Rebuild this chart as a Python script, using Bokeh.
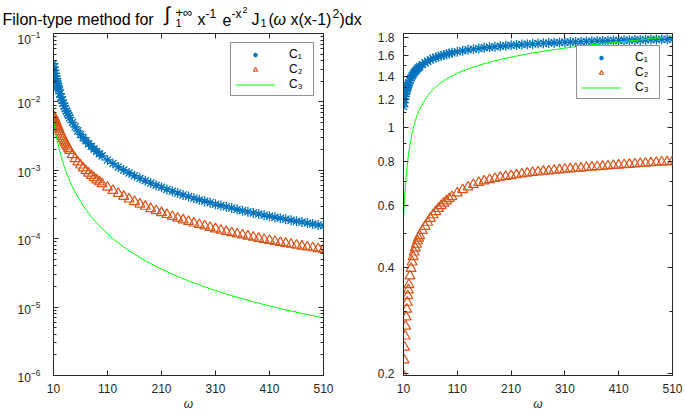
from bokeh.plotting import figure
from bokeh.layouts import column, row
from bokeh.models import (ColumnDataSource, Range1d, FixedTicker, LogTickFormatter,
                          CustomJSTickFormatter, LinearAxis, LogAxis, Legend, LegendItem)
from bokeh.core.properties import value
from bokeh.embed import file_html
from bokeh.resources import INLINE

# ---------------- data ----------------
omega = [10, 11, 12, 13, 14, 15, 16, 17, 18, 19, 20,
         22, 24, 26, 28, 30, 32, 34, 36, 38, 40,
         45, 50, 55, 60, 65, 70, 75, 80, 85, 90, 95, 100,
         110, 120, 130, 140, 150, 160, 170, 180, 190, 200,
         210, 220, 230, 240, 250, 260, 270, 280, 290, 300,
         310, 320, 330, 340, 350, 360, 370, 380, 390, 400,
         410, 420, 430, 440, 450, 460, 470, 480, 490, 500, 510]

# left panel: absolute errors
err_c1 = [3.62e-2, 3.22e-2, 2.89e-2, 2.62e-2, 2.38e-2, 2.18e-2, 2.01e-2, 1.86e-2, 1.72e-2, 1.60e-2, 1.50e-2,
          1.32e-2, 1.18e-2, 1.06e-2, 9.56e-3, 8.72e-3, 7.98e-3, 7.35e-3, 6.80e-3, 6.31e-3, 5.88e-3,
          5.00e-3, 4.32e-3, 3.78e-3, 3.35e-3, 3.00e-3, 2.70e-3, 2.45e-3, 2.24e-3, 2.05e-3, 1.89e-3, 1.75e-3, 1.63e-3,
          1.42e-3, 1.26e-3, 1.12e-3, 1.01e-3, 9.13e-4, 8.33e-4, 7.63e-4, 7.03e-4, 6.50e-4, 6.04e-4,
          5.63e-4, 5.26e-4, 4.93e-4, 4.64e-4, 4.37e-4, 4.13e-4, 3.91e-4, 3.71e-4, 3.53e-4, 3.36e-4,
          3.20e-4, 3.06e-4, 2.92e-4, 2.80e-4, 2.68e-4, 2.57e-4, 2.47e-4, 2.38e-4, 2.29e-4, 2.21e-4,
          2.13e-4, 2.06e-4, 1.99e-4, 1.92e-4, 1.86e-4, 1.80e-4, 1.75e-4, 1.69e-4, 1.64e-4, 1.59e-4,
          1.55e-4]
err_c2 = [6.23e-3, 5.98e-3, 5.70e-3, 5.44e-3, 5.19e-3, 4.98e-3, 4.75e-3, 4.54e-3, 4.35e-3, 4.17e-3, 3.99e-3,
          3.66e-3, 3.38e-3, 3.12e-3, 2.90e-3, 2.69e-3, 2.51e-3, 2.35e-3, 2.20e-3, 2.07e-3, 1.95e-3,
          1.69e-3, 1.48e-3, 1.32e-3, 1.19e-3, 1.08e-3, 9.84e-4, 9.05e-4, 8.37e-4, 7.77e-4, 7.24e-4, 6.77e-4, 6.35e-4,
          5.64e-4, 5.06e-4, 4.57e-4, 4.15e-4, 3.79e-4, 3.48e-4, 3.20e-4, 2.97e-4, 2.75e-4, 2.56e-4,
          2.40e-4, 2.25e-4, 2.11e-4, 1.99e-4, 1.88e-4, 1.78e-4, 1.69e-4, 1.61e-4, 1.53e-4, 1.46e-4,
          1.39e-4, 1.33e-4, 1.27e-4, 1.22e-4, 1.17e-4, 1.13e-4, 1.09e-4, 1.05e-4, 1.01e-4, 9.74e-5,
          9.41e-5, 9.10e-5, 8.80e-5, 8.53e-5, 8.27e-5, 8.02e-5, 7.78e-5, 7.56e-5, 7.35e-5, 7.14e-5,
          6.95e-5]
err_c3 = [5.50e-3, 4.88e-3, 4.36e-3, 3.92e-3, 3.55e-3, 3.23e-3, 2.95e-3, 2.71e-3, 2.49e-3, 2.30e-3, 2.13e-3,
          1.85e-3, 1.61e-3, 1.42e-3, 1.27e-3, 1.13e-3, 1.02e-3, 9.24e-4, 8.40e-4, 7.67e-4, 7.03e-4,
          5.75e-4, 4.80e-4, 4.07e-4, 3.49e-4, 3.03e-4, 2.66e-4, 2.35e-4, 2.10e-4, 1.88e-4, 1.70e-4, 1.54e-4, 1.40e-4,
          1.18e-4, 1.00e-4, 8.68e-5, 7.58e-5, 6.68e-5, 5.93e-5, 5.30e-5, 4.78e-5, 4.32e-5, 3.93e-5,
          3.59e-5, 3.30e-5, 3.04e-5, 2.81e-5, 2.60e-5, 2.42e-5, 2.26e-5, 2.11e-5, 1.98e-5, 1.86e-5,
          1.75e-5, 1.65e-5, 1.56e-5, 1.47e-5, 1.40e-5, 1.33e-5, 1.26e-5, 1.20e-5, 1.14e-5, 1.09e-5,
          1.04e-5, 9.95e-6, 9.52e-6, 9.13e-6, 8.76e-6, 8.42e-6, 8.09e-6, 7.78e-6, 7.49e-6, 7.22e-6,
          6.96e-6]

# right panel: scaled errors
sc_c1 = [1.146, 1.176, 1.203, 1.226, 1.247, 1.266, 1.284, 1.300, 1.314, 1.328, 1.341,
         1.363, 1.383, 1.401, 1.417, 1.432, 1.445, 1.457, 1.468, 1.479, 1.488,
         1.509, 1.528, 1.543, 1.557, 1.570, 1.581, 1.591, 1.600, 1.608, 1.616, 1.623, 1.630,
         1.642, 1.652, 1.662, 1.670, 1.678, 1.685, 1.691, 1.697, 1.702, 1.707,
         1.712, 1.716, 1.721, 1.725, 1.728, 1.732, 1.735, 1.738, 1.741, 1.744,
         1.746, 1.749, 1.751, 1.754, 1.756, 1.758, 1.760, 1.762, 1.764, 1.766,
         1.768, 1.770, 1.771, 1.773, 1.774, 1.776, 1.778, 1.779, 1.781, 1.782,
         1.783]
sc_c2 = [0.197, 0.218, 0.237, 0.255, 0.272, 0.289, 0.304, 0.318, 0.332, 0.345, 0.357,
         0.378, 0.397, 0.414, 0.429, 0.442, 0.454, 0.465, 0.475, 0.484, 0.492,
         0.509, 0.523, 0.537, 0.551, 0.564, 0.576, 0.588, 0.599, 0.609, 0.618, 0.627, 0.635,
         0.651, 0.665, 0.677, 0.688, 0.697, 0.704, 0.710, 0.716, 0.721, 0.725,
         0.729, 0.733, 0.737, 0.741, 0.744, 0.747, 0.750, 0.752, 0.755, 0.757,
         0.760, 0.762, 0.764, 0.766, 0.769, 0.771, 0.773, 0.775, 0.777, 0.779,
         0.781, 0.783, 0.785, 0.787, 0.789, 0.791, 0.793, 0.795, 0.797, 0.798,
         0.800]
sc_c3 = [0.550, 0.590, 0.628, 0.663, 0.696, 0.727, 0.755, 0.782, 0.807, 0.830, 0.852,
         0.893, 0.930, 0.963, 0.993, 1.020, 1.045, 1.068, 1.089, 1.108, 1.125,
         1.165, 1.200, 1.231, 1.258, 1.282, 1.304, 1.324, 1.342, 1.358, 1.373, 1.387, 1.400,
         1.425, 1.447, 1.467, 1.485, 1.502, 1.518, 1.533, 1.547, 1.560, 1.573,
         1.585, 1.596, 1.607, 1.618, 1.628, 1.638, 1.647, 1.656, 1.665, 1.673,
         1.681, 1.689, 1.697, 1.704, 1.711, 1.718, 1.725, 1.731, 1.737, 1.743,
         1.749, 1.755, 1.761, 1.768, 1.774, 1.781, 1.787, 1.793, 1.799, 1.804,
         1.810]

x_ticks = [10, 110, 210, 310, 410, 510]
left_y_ticks = [1e-6, 1e-5, 1e-4, 1e-3, 1e-2, 1e-1]
right_y_ticks = [0.2, 0.4, 0.6, 0.8, 1, 1.2, 1.4, 1.6, 1.8]
right_y_minor = [0.3, 0.5, 0.7, 0.9, 1.1, 1.3, 1.5, 1.7]
labels = ["C\u2081", "C\u2082", "C\u2083"]

# ---------------- styling ----------------
FONT = "Liberation Sans"
AX = "#262626"
BLUE = "#0072BD"
ORANGE = "#D95319"
GREEN = "#00FF00"

left_minor = [k * 10.0 ** e for e in range(-6, -1) for k in range(2, 10)]
blank = CustomJSTickFormatter(code="return ''")


def style_fig(p, yticker, yformatter, minor_y, ystandoff):
    p.grid.visible = False
    p.outline_line_color = AX
    p.outline_line_width = 1
    p.background_fill_color = "white"
    p.border_fill_color = "white"
    for ax in p.xaxis:
        ax.ticker = FixedTicker(ticks=x_ticks, minor_ticks=[])
        ax.major_tick_in = 5
        ax.major_tick_out = 0
        ax.axis_line_color = AX
        ax.major_tick_line_color = AX
        ax.major_label_text_font = FONT
        ax.major_label_text_font_size = "12px"
        ax.major_label_text_color = AX
        ax.major_label_standoff = 8
        ax.axis_label = "\u03c9"
        ax.axis_label_text_font = FONT
        ax.axis_label_text_font_style = "italic"
        ax.axis_label_text_font_size = "12px"
        ax.axis_label_text_color = AX
        ax.axis_label_standoff = 1
    for ax in p.yaxis:
        ax.ticker = FixedTicker(ticks=yticker, minor_ticks=minor_y)
        ax.formatter = yformatter
        ax.major_tick_in = 5
        ax.major_tick_out = 0
        ax.minor_tick_in = 3
        ax.minor_tick_out = 0
        ax.axis_line_color = AX
        ax.major_tick_line_color = AX
        ax.minor_tick_line_color = AX
        ax.major_label_text_font = FONT
        ax.major_label_text_font_size = "12px"
        ax.major_label_text_color = AX
        ax.major_label_standoff = ystandoff
    top = LinearAxis(ticker=FixedTicker(ticks=x_ticks, minor_ticks=[]), formatter=blank,
                     major_label_text_font_size="1px", axis_line_color=None,
                     major_tick_in=5, major_tick_out=0, major_label_standoff=0,
                     major_tick_line_color=AX)
    p.add_layout(top, "above")
    rgt = LogAxis(ticker=FixedTicker(ticks=yticker, minor_ticks=minor_y), formatter=blank,
                  major_label_text_font_size="1px", axis_line_color=None,
                  major_tick_in=5, major_tick_out=0, minor_tick_in=3, minor_tick_out=0,
                  major_label_standoff=0, major_tick_line_color=AX, minor_tick_line_color=AX)
    p.add_layout(rgt, "right")


def add_series(p, y1, y2, y3, margin):
    src = ColumnDataSource(dict(w=omega, a=y1, b=y2, c=y3))
    r1 = p.scatter("w", "a", source=src, marker="asterisk", size=10,
                   line_color=BLUE, line_width=1.3)
    r2 = p.scatter("w", "b", source=src, marker="triangle", size=10,
                   fill_color=None, line_color=ORANGE, line_width=1.2)
    r3 = p.line("w", "c", source=src, line_color=GREEN, line_width=1)
    leg = Legend(items=[LegendItem(label=labels[0], renderers=[r1]),
                        LegendItem(label=labels[1], renderers=[r2]),
                        LegendItem(label=labels[2], renderers=[r3])],
                 location="top_right", margin=margin, padding=4, spacing=1,
                 glyph_width=40, glyph_height=11, label_height=11,
                 label_standoff=14, label_text_font=FONT, label_text_font_size="12px",
                 label_text_color="black", border_line_color=AX, border_line_width=1,
                 background_fill_color="white", background_fill_alpha=1)
    p.add_layout(leg)


HH = 31
H = 413 - HH
p1 = figure(width=345, height=H, x_range=Range1d(10, 510), y_range=Range1d(1e-6, 1e-1),
            y_axis_type="log", output_backend="svg", toolbar_location=None,
            min_border_left=53, min_border_right=22, min_border_top=2, min_border_bottom=35)
style_fig(p1, left_y_ticks, LogTickFormatter(), left_minor, 13)
add_series(p1, err_c1, err_c2, err_c3, 9)

p2 = figure(width=340, height=H, x_range=Range1d(10, 510), y_range=Range1d(0.197, 1.85),
            y_axis_type="log", output_backend="svg", toolbar_location=None,
            min_border_left=58, min_border_right=13, min_border_top=2, min_border_bottom=35)
style_fig(p2, right_y_ticks, CustomJSTickFormatter(code="return tick.toString()"), right_y_minor, 9)
add_series(p2, sc_c1, sc_c2, sc_c3, 12)

# ---------------- title (header strip, pixel coordinates) ----------------
ph = figure(width=685, height=HH, x_range=Range1d(0, 685), y_range=Range1d(0, HH),
            output_backend="svg", toolbar_location=None, min_border=0)
ph.axis.visible = False
ph.grid.visible = False
ph.outline_line_color = None
ph.border_fill_color = "white"

# (text, x, y, size, style)
title_parts = [
    ("Filon-type method for", 2, 12, "16px", "normal"),
    ("\u222b", 164, 18, "20px", "normal"),
    ("1", 175, 9, "11px", "normal"),
    ("+\u221e", 175, 19, "13px", "normal"),
    ("x", 197, 12, "16px", "normal"),
    ("-1", 205, 18, "12px", "normal"),
    ("e", 222, 12, "16px", "normal"),
    ("-x", 231, 18, "12px", "normal"),
    ("2", 242, 22, "9px", "normal"),
    ("J", 251, 12, "16px", "normal"),
    ("1", 260, 9, "11px", "normal"),
    ("(", 268, 12, "16px", "normal"),
    ("\u03c9", 273, 12, "16px", "italic"),
    ("x(x-1)", 290, 12, "16px", "normal"),
    ("2", 332, 18, "12px", "normal"),
    (")dx", 339, 12, "16px", "normal"),
]
for t, x, y, s, st in title_parts:
    ph.text(x=[x], y=[y], text=[t], text_font=value(FONT), text_font_size=s,
            text_font_style=st, text_color="black", text_baseline="alphabetic",
            text_align="left")

layout = column(ph, row(p1, p2))
open("out.html", "w").write(file_html(layout, INLINE))
